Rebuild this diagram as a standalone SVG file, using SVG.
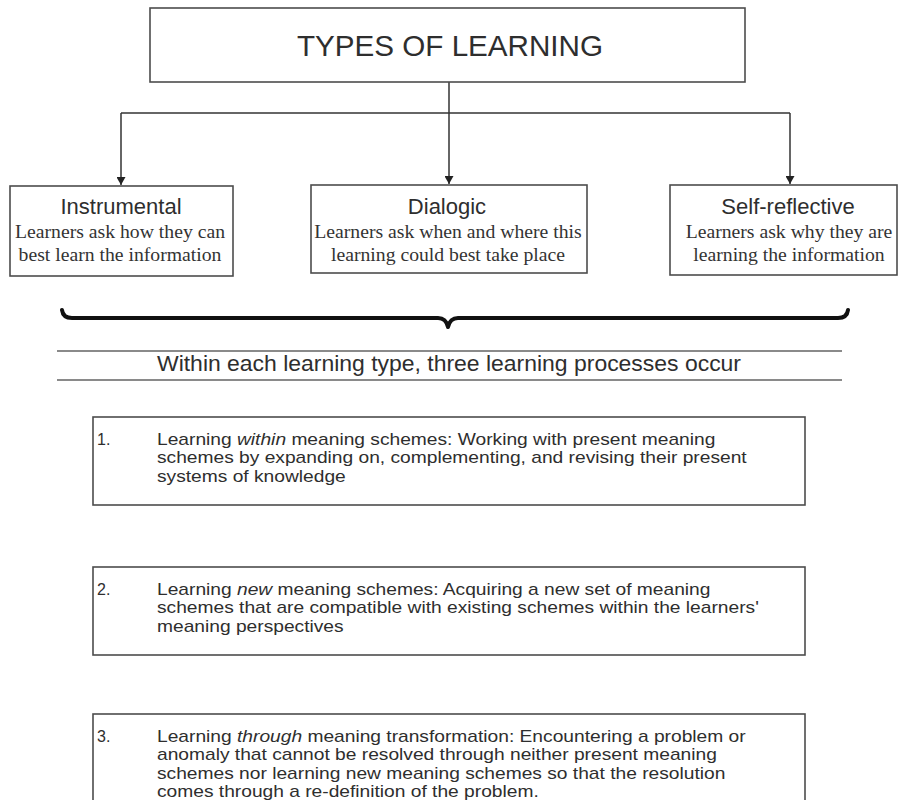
<svg xmlns="http://www.w3.org/2000/svg" width="899" height="800" viewBox="0 0 899 800">
<style>
.box{fill:#fff;stroke:#4d4d4d;stroke-width:1.6}
.sans{font-family:"Liberation Sans",Arial,sans-serif;fill:#2e2e2e}
.serif{font-family:"Liberation Serif","Times New Roman",serif;fill:#333;font-size:18px}
.head{font-size:22px;text-anchor:middle}
.mid{text-anchor:middle}
.proc{font-size:16px}
.conn{stroke:#333;stroke-width:1.5;fill:none}
.rule{stroke:#8a8a8a;stroke-width:2}
</style>
<defs>
<marker id="arr" markerWidth="9" markerHeight="9" refX="8" refY="4.5" orient="auto" markerUnits="userSpaceOnUse">
<path d="M0,0 L8,4.5 L0,9 z" fill="#222"/>
</marker>
</defs>
<rect width="899" height="800" fill="#fff"/>

<g id="connectors">
<path class="conn" d="M449,82 V113"/>
<path class="conn" d="M121,113 H790"/>
<path class="conn" d="M121,113 V185" marker-end="url(#arr)"/>
<path class="conn" d="M449,113 V184" marker-end="url(#arr)"/>
<path class="conn" d="M790,113 V184" marker-end="url(#arr)"/>
</g>

<g id="title">
<rect class="box" x="150" y="8" width="595" height="74"/>
<text class="sans mid" x="450" y="56" font-size="29.5" textLength="306" lengthAdjust="spacingAndGlyphs">TYPES OF LEARNING</text>
</g>

<g id="instrumental">
<rect class="box" x="10" y="186" width="223" height="90"/>
<text class="sans head" x="121" y="214">Instrumental</text>
<g transform="translate(120,0) scale(1.095,1)">
<text class="serif mid" x="0" y="238">Learners ask how they can</text>
<text class="serif mid" x="0" y="261">best learn the information</text>
</g>
</g>

<g id="dialogic">
<rect class="box" x="311" y="185" width="276" height="88"/>
<text class="sans head" x="447" y="214">Dialogic</text>
<g transform="translate(448,0) scale(1.095,1)">
<text class="serif mid" x="0" y="238">Learners ask when and where this</text>
<text class="serif mid" x="0" y="261">learning could best take place</text>
</g>
</g>

<g id="selfreflective">
<rect class="box" x="670" y="185" width="227" height="90"/>
<text class="sans head" x="788" y="214">Self-reflective</text>
<g transform="translate(789,0) scale(1.095,1)">
<text class="serif mid" x="0" y="238">Learners ask why they are</text>
<text class="serif mid" x="0" y="261">learning the information</text>
</g>
</g>

<g id="brace">
<path d="M62,310 Q63,318 72,318 H438 Q446,318 448,327 Q450,318 458,318 H838 Q847,318 848,310" fill="none" stroke="#111" stroke-width="4" stroke-linecap="round" stroke-linejoin="round"/>
</g>

<g id="processes-heading">
<line class="rule" x1="57" y1="351" x2="842" y2="351"/>
<line class="rule" x1="57" y1="380" x2="842" y2="380"/>
<text class="sans mid" x="449" y="371" font-size="22" textLength="584" lengthAdjust="spacingAndGlyphs">Within each learning type, three learning processes occur</text>
</g>

<g id="process1">
<rect class="box" x="93" y="417" width="712" height="88"/>
<text class="sans proc" x="97" y="445">1.</text>
<g transform="translate(157,0) scale(1.2,1)">
<text class="sans proc" x="0" y="445">Learning <tspan font-style="italic">within</tspan> meaning schemes: Working with present meaning</text>
<text class="sans proc" x="0" y="463.5">schemes by expanding on, complementing, and revising their present</text>
<text class="sans proc" x="0" y="482">systems of knowledge</text>
</g>
</g>

<g id="process2">
<rect class="box" x="93" y="567" width="712" height="88"/>
<text class="sans proc" x="97" y="595">2.</text>
<g transform="translate(157,0) scale(1.2,1)">
<text class="sans proc" x="0" y="595">Learning <tspan font-style="italic">new</tspan> meaning schemes: Acquiring a new set of meaning</text>
<text class="sans proc" x="0" y="613.5">schemes that are compatible with existing schemes within the learners'</text>
<text class="sans proc" x="0" y="632">meaning perspectives</text>
</g>
</g>

<g id="process3">
<rect class="box" x="93" y="714" width="712" height="110"/>
<text class="sans proc" x="97" y="742">3.</text>
<g transform="translate(157,0) scale(1.2,1)">
<text class="sans proc" x="0" y="742">Learning <tspan font-style="italic">through</tspan> meaning transformation: Encountering a problem or</text>
<text class="sans proc" x="0" y="760.5">anomaly that cannot be resolved through neither present meaning</text>
<text class="sans proc" x="0" y="779">schemes nor learning new meaning schemes so that the resolution</text>
<text class="sans proc" x="0" y="797.5">comes through a re-definition of the problem.</text>
</g>
</g>
</svg>
